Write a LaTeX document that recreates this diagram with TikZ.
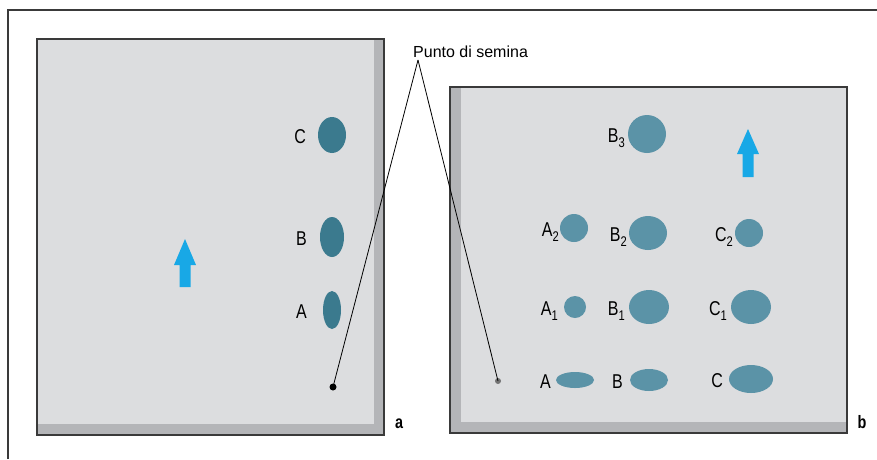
\documentclass[tikz,border=0pt]{standalone}
\usepackage{fontspec}
\setmainfont{Liberation Sans}[FakeStretch=0.8]
\newfontfamily\plainsans{Liberation Sans}
\usetikzlibrary{shapes.geometric}
\definecolor{plate}{HTML}{DCDDDF}
\definecolor{plateedge}{HTML}{B4B5B8}
\definecolor{spotA}{HTML}{3B7A8E}
\definecolor{spotB}{HTML}{5B93A7}
\definecolor{flow}{HTML}{18A8E6}
\definecolor{frameC}{HTML}{3A3A3A}
\newcommand{\sbs}[1]{\raisebox{-5pt}{\fontsize{14}{14}\selectfont #1}}
\tikzset{
  spotL/.style={ellipse, fill=spotA, inner sep=0pt},
  spotR/.style={ellipse, fill=spotB, inner sep=0pt},
  lab/.style={anchor=base east, inner sep=0pt, font=\fontsize{20}{22}\selectfont},
  leader/.style={draw=black, line width=0.8pt},
  platebox/.style={draw=frameC, line width=1.3pt},
  flowarrow/.style={fill=flow, draw=none},
}
\begin{document}
\begin{tikzpicture}[x=1pt,y=-1pt]
\useasboundingbox (0,0) rectangle (877,459);
% outer frame
\draw[draw=frameC, line width=1.5pt] (8,459) -- (8,10) -- (877,10);
% left plate
\fill[plate] (37,39) rectangle (384,435);
\fill[plateedge] (374,39) rectangle (384,435);
\fill[plateedge] (37,424) rectangle (384,435);
\draw[platebox] (37,39) rectangle (384,435);
% right plate
\fill[plate] (450,87) rectangle (847,433);
\fill[plateedge] (450,87) rectangle (461,433);
\fill[plateedge] (450,422) rectangle (847,433);
\draw[platebox] (450,87) rectangle (847,433);
% left spots
\node[spotL, minimum width=28pt, minimum height=36pt] (lC) at (332,135) {};
\node[spotL, minimum width=24pt, minimum height=40pt] (lB) at (332,237) {};
\node[spotL, minimum width=18pt, minimum height=38pt] (lA) at (332,310) {};
\node[lab] (tlC) at (306,143) {C};
\node[lab] (tlB) at (307,245) {B};
\node[lab] (tlA) at (307,318) {A};
% left arrow
\fill[flowarrow] (185,239) -- (196,265) -- (190.5,265) -- (190.5,287) -- (179.5,287) -- (179.5,265) -- (174,265) -- cycle;
% right spots
\node[spotR, minimum width=38pt, minimum height=38pt] (B3) at (647,134) {};
\node[spotR, minimum width=28pt, minimum height=28pt] (A2) at (574,228) {};
\node[spotR, minimum width=38pt, minimum height=34pt] (B2) at (648,233) {};
\node[spotR, minimum width=28pt, minimum height=28pt] (C2) at (749,233) {};
\node[spotR, minimum width=22pt, minimum height=22pt] (A1) at (575,307) {};
\node[spotR, minimum width=40pt, minimum height=34pt] (B1) at (649,307) {};
\node[spotR, minimum width=40pt, minimum height=34pt] (C1) at (751,307) {};
\node[spotR, minimum width=38pt, minimum height=16pt] (A0) at (575,380) {};
\node[spotR, minimum width=38pt, minimum height=22pt] (B0) at (649,380) {};
\node[spotR, minimum width=44pt, minimum height=28pt] (C0) at (751,379) {};
\node[lab] (tB3) at (625,142) {B\sbs{3}};
\node[lab] (tA2) at (559,236) {A\sbs{2}};
\node[lab] (tB2) at (627,241) {B\sbs{2}};
\node[lab] (tC2) at (733,241) {C\sbs{2}};
\node[lab] (tA1) at (558,315) {A\sbs{1}};
\node[lab] (tB1) at (625,315) {B\sbs{1}};
\node[lab] (tC1) at (727,315) {C\sbs{1}};
\node[lab] (tA0) at (551,388) {A};
\node[lab] (tB0) at (623,388) {B};
\node[lab] (tC0) at (723,387) {C};
% right arrow
\fill[flowarrow] (748,129) -- (759,154) -- (753.5,154) -- (753.5,177) -- (742.5,177) -- (742.5,154) -- (737,154) -- cycle;
% seeding points
\node[circle, fill=black, inner sep=0pt, minimum size=7pt] (dotL) at (333,387) {};
\node[circle, fill=black!55, inner sep=0pt, minimum size=6pt] (dotR) at (498,381) {};
\node[anchor=base west, inner sep=0pt, font=\plainsans\fontsize{16}{18}\selectfont] (punto) at (413,57) {Punto di semina};
\coordinate (apex) at (418,60);
\draw[leader] (apex) -- (dotL.center);
\draw[leader] (apex) -- (dotR.center);
% panel letters
\node[anchor=base, inner sep=0pt, font=\bfseries\fontsize{18}{20}\selectfont] (la) at (399,428) {a};
\node[anchor=base, inner sep=0pt, font=\bfseries\fontsize{18}{20}\selectfont] (lb) at (862,428) {b};
\end{tikzpicture}
\end{document}
